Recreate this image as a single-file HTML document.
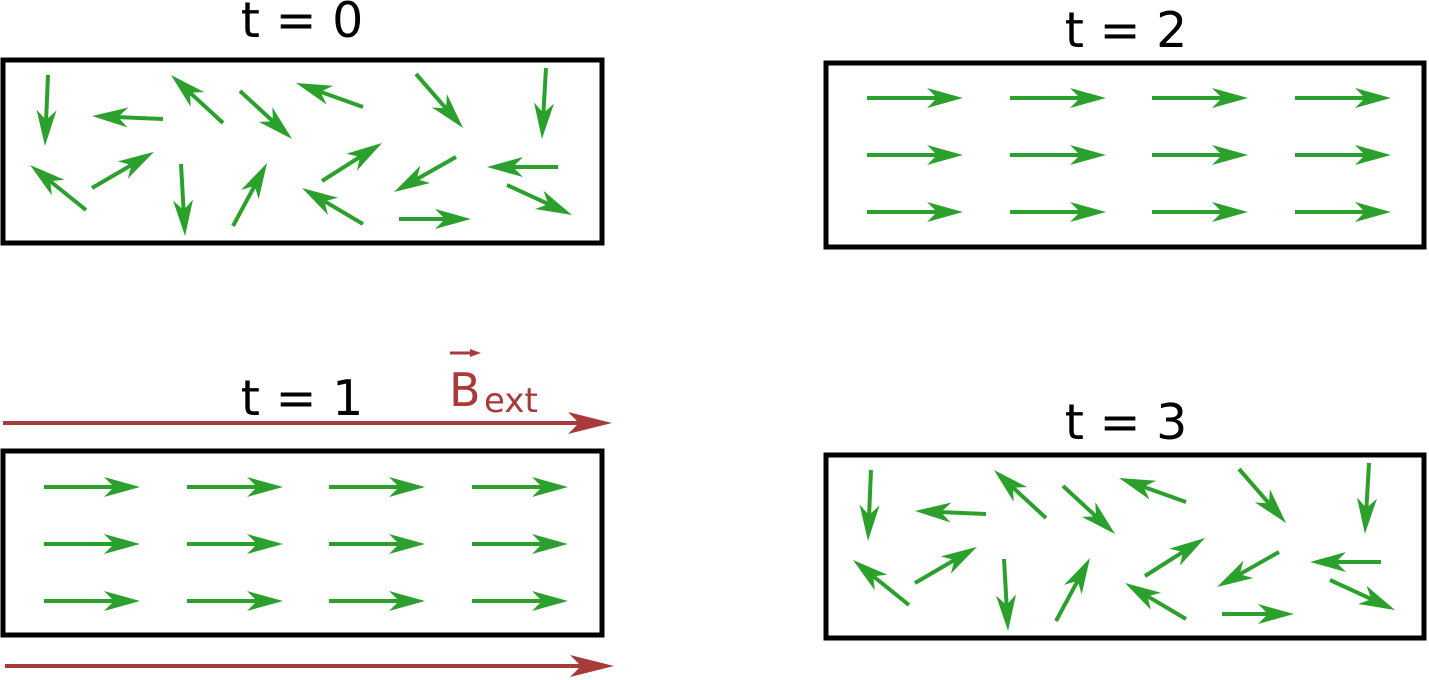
<!DOCTYPE html>
<html><head><meta charset="utf-8"><style>html,body{margin:0;padding:0;background:#fff;}svg{display:block}</style></head>
<body>
<svg width="1429" height="680" viewBox="0 0 1429 680" xmlns="http://www.w3.org/2000/svg">
<defs>
<marker id="g" markerUnits="userSpaceOnUse" markerWidth="120" markerHeight="100" refX="50" refY="50" orient="auto" overflow="visible">
<path d="M74,50 L38,40 L48,50 L38,60 Z" fill="#2ca02c"/>
</marker>
<marker id="r" markerUnits="userSpaceOnUse" markerWidth="120" markerHeight="100" refX="50" refY="50" orient="auto" overflow="visible">
<path d="M80,50 L36,39 L47,50 L36,61 Z" fill="#a83a3a"/>
</marker>
<g id="rand" stroke="#2ca02c" stroke-width="4" marker-end="url(#g)">
<line x1="48" y1="75" x2="46" y2="122"/>
<line x1="163" y1="119" x2="116" y2="117"/>
<line x1="223" y1="123" x2="188.6" y2="91.3"/>
<line x1="240" y1="91" x2="274.4" y2="122.7"/>
<line x1="86" y1="210" x2="48.7" y2="180"/>
<line x1="92" y1="188" x2="133.2" y2="164"/>
<line x1="181" y1="164" x2="183.7" y2="212"/>
<line x1="233" y1="226" x2="255.6" y2="184.1"/>
<line x1="363" y1="107" x2="318.6" y2="91.1"/>
<line x1="416" y1="74" x2="447.3" y2="109.9"/>
<line x1="546" y1="68" x2="543.3" y2="115"/>
<line x1="322" y1="181" x2="361.7" y2="155.8"/>
<line x1="456" y1="157" x2="414.9" y2="180.2"/>
<line x1="558" y1="167" x2="511" y2="167"/>
<line x1="363" y1="224" x2="322.7" y2="200.2"/>
<line x1="399" y1="219" x2="447" y2="219"/>
<line x1="507" y1="185" x2="550.2" y2="204.9"/>
</g>
<g id="uni" stroke="#2ca02c" stroke-width="4" marker-end="url(#g)">
<line x1="44" y1="487" x2="116" y2="487"/><line x1="187" y1="487" x2="259" y2="487"/><line x1="329" y1="487" x2="401" y2="487"/><line x1="472" y1="487" x2="544" y2="487"/>
<line x1="44" y1="544" x2="116" y2="544"/><line x1="187" y1="544" x2="259" y2="544"/><line x1="329" y1="544" x2="401" y2="544"/><line x1="472" y1="544" x2="544" y2="544"/>
<line x1="44" y1="601" x2="116" y2="601"/><line x1="187" y1="601" x2="259" y2="601"/><line x1="329" y1="601" x2="401" y2="601"/><line x1="472" y1="601" x2="544" y2="601"/>
</g>
</defs>
<g fill="none" stroke="#000" stroke-width="5">
<rect x="3" y="60" width="599" height="183"/>
<rect x="3" y="451" width="599" height="184"/>
<rect x="826" y="63" width="598" height="184"/>
<rect x="826" y="455" width="598" height="183"/>
</g>
<use href="#rand"/>
<use href="#rand" transform="translate(823,395)"/>
<use href="#uni"/>
<use href="#uni" transform="translate(823,-389)"/>
<g stroke="#a83a3a" stroke-width="4" marker-end="url(#r)">
<line x1="3" y1="423" x2="582" y2="423"/>
<line x1="5" y1="666" x2="584" y2="666"/>
</g>
<g font-family="DejaVu Sans, sans-serif" font-size="49" text-anchor="middle" fill="#000">
<text x="302" y="37">t = 0</text>
<text x="1126" y="47">t = 2</text>
<text x="302" y="415">t = 1</text>
<text x="1126" y="439">t = 3</text>
</g>
<g fill="#a83a3a" font-family="DejaVu Sans, sans-serif">
<text x="449" y="406" font-size="46">B</text>
<text x="484" y="412" font-size="34">ext</text>
<line x1="450" y1="353" x2="476" y2="353" stroke="#a83a3a" stroke-width="3"/>
<path d="M470,349 L481,353 L470,357 Z"/>
</g>
</svg>
</body></html>
